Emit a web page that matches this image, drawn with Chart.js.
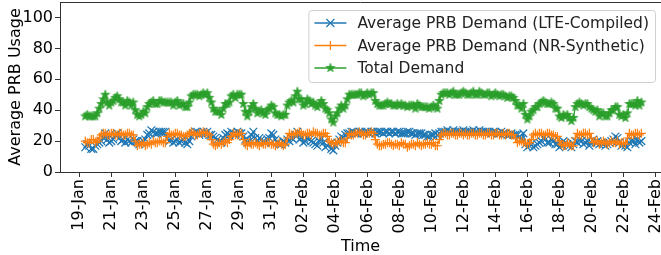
<!DOCTYPE html>
<html lang="en">
<head>
<meta charset="UTF-8">
<title>Average PRB Usage</title>
<script src="https://cdn.jsdelivr.net/npm/chart.js"></script>
<style>
  html, body { margin: 0; padding: 0; background: #fff; }
  #wrap { width: 661px; height: 255px; }
</style>
</head>
<body>
<div id="wrap"><canvas id="prbChart"></canvas></div>
<script>
// x values are days since 19-Jan 00:00, one sample every 3 hours
const firstSample = 0.375;
const sampleStep = 0.125;

const lteDemand = [
  16, 18, 17, 15, 15, 17, 18, 19, 20, 22, 25, 21, 19, 20, 21, 24, 25, 22, 20, 21,
  19, 21, 20, 19, 21, 20, 20, 18, 19, 20, 21, 24, 25, 27, 26, 25, 25, 26, 26, 26,
  26, 22, 20, 21, 19, 20, 21, 19, 20, 21, 19, 18, 20, 23, 25, 26, 26, 24, 25, 26,
  25, 26, 24, 24, 23, 22, 21, 20, 19, 22, 24, 25, 24, 26, 25, 24, 26, 25, 25, 23,
  21, 19, 20, 24, 26, 22, 20, 22, 21, 20, 19, 21, 22, 25, 24, 21, 19, 18, 18, 20,
  19, 21, 20, 22, 21, 24, 26, 21, 22, 19, 20, 22, 21, 20, 19, 18, 17, 20, 22, 19,
  16, 17, 18, 15, 14, 17, 19, 21, 23, 22, 24, 25, 25, 26, 26, 25, 25, 26, 26, 25,
  26, 26, 25, 26, 26, 25, 26, 26, 26, 25, 26, 26, 25, 26, 26, 25, 26, 26, 25, 25,
  25, 26, 26, 25, 25, 24, 25, 25, 25, 24, 24, 23, 23, 24, 24, 25, 24, 25, 26, 26,
  26, 27, 26, 26, 27, 26, 26, 26, 26, 27, 26, 26, 26, 26, 27, 26, 26, 27, 26, 26,
  26, 26, 26, 25, 26, 26, 25, 25, 26, 25, 25, 24, 24, 25, 24, 24, 24, 23, 21, 25,
  18, 16, 17, 18, 16, 17, 18, 19, 20, 22, 21, 19, 19, 21, 20, 18, 18, 16, 17, 20,
  19, 18, 17, 16, 18, 20, 19, 21, 20, 18, 19, 20, 17, 19, 21, 19, 20, 18, 19, 18,
  17, 18, 19, 20, 21, 23, 22, 19, 17, 18, 17, 16, 19, 20, 20, 18, 21, 19, 20
];
const nrDemand = [
  20, 19, 19, 21, 21, 19, 20, 22, 24, 25, 25, 24, 24, 25, 25, 24, 24, 25, 25, 24,
  24, 25, 25, 24, 24, 20, 17, 18, 18, 19, 17, 18, 19, 18, 20, 19, 19, 20, 20, 19,
  19, 23, 25, 24, 24, 25, 25, 24, 24, 23, 23, 24, 25, 26, 25, 24, 24, 25, 25, 26,
  25, 25, 24, 21, 18, 17, 18, 19, 18, 19, 20, 19, 21, 23, 25, 24, 24, 25, 25, 21,
  18, 17, 19, 18, 18, 19, 18, 17, 19, 18, 18, 19, 19, 18, 18, 17, 18, 19, 18, 17,
  18, 22, 25, 24, 24, 25, 25, 26, 25, 24, 24, 25, 25, 24, 26, 25, 25, 24, 24, 25,
  25, 23, 20, 19, 18, 19, 19, 20, 20, 19, 19, 22, 25, 24, 24, 25, 25, 26, 25, 24,
  24, 25, 25, 26, 25, 21, 18, 17, 17, 18, 18, 19, 19, 18, 17, 18, 18, 17, 19, 18,
  18, 16, 17, 18, 18, 17, 19, 18, 17, 18, 18, 19, 18, 18, 19, 17, 17, 21, 24, 25,
  25, 24, 24, 25, 25, 24, 24, 25, 25, 24, 25, 24, 24, 25, 25, 24, 24, 25, 25, 24,
  24, 25, 25, 24, 24, 25, 25, 24, 24, 25, 24, 25, 25, 24, 24, 22, 19, 20, 20, 19,
  19, 18, 19, 21, 24, 25, 24, 25, 25, 24, 24, 25, 25, 24, 24, 23, 23, 20, 18, 17,
  17, 19, 18, 17, 17, 22, 25, 24, 24, 25, 25, 24, 25, 22, 19, 20, 20, 18, 19, 20,
  19, 18, 19, 20, 19, 19, 20, 18, 19, 19, 18, 22, 25, 24, 24, 25, 25, 24, 25
];
const totalDemand = [
  36, 37, 36, 36, 36, 36, 38, 41, 44, 47, 50, 45, 43, 45, 46, 48, 49, 47, 45, 45,
  43, 46, 45, 43, 45, 40, 37, 36, 37, 39, 38, 42, 44, 45, 46, 44, 44, 46, 46, 45,
  45, 45, 45, 45, 43, 45, 46, 43, 44, 44, 42, 42, 45, 49, 50, 50, 50, 49, 50, 51,
  50, 51, 48, 45, 41, 39, 39, 39, 37, 41, 44, 44, 45, 49, 50, 48, 50, 50, 50, 44,
  39, 36, 39, 42, 44, 41, 38, 39, 40, 38, 37, 40, 41, 43, 42, 38, 37, 37, 36, 37,
  37, 43, 45, 46, 45, 49, 52, 47, 47, 43, 44, 47, 46, 44, 45, 43, 42, 44, 46, 44,
  41, 40, 38, 34, 32, 36, 38, 41, 43, 41, 43, 47, 50, 50, 50, 50, 50, 51, 51, 49,
  50, 51, 50, 51, 51, 46, 44, 43, 43, 43, 44, 45, 44, 44, 43, 43, 44, 43, 44, 43,
  43, 42, 43, 43, 43, 41, 44, 43, 42, 42, 42, 42, 41, 42, 43, 42, 41, 46, 50, 51,
  51, 51, 50, 51, 52, 50, 50, 50, 51, 52, 51, 50, 50, 51, 52, 50, 50, 52, 51, 50,
  50, 51, 51, 49, 50, 51, 50, 49, 50, 50, 49, 48, 49, 49, 48, 46, 43, 43, 41, 44,
  37, 34, 36, 39, 40, 42, 42, 44, 45, 46, 45, 44, 44, 45, 44, 41, 41, 36, 35, 37,
  36, 37, 35, 33, 35, 42, 44, 45, 44, 43, 44, 44, 42, 41, 40, 39, 40, 36, 38, 38,
  36, 36, 38, 40, 40, 42, 42, 37, 36, 37, 35, 38, 44, 44, 44, 43, 46, 43, 45
];

const seriesNames = [
  'Average PRB Demand (LTE-Compiled)',
  'Average PRB Demand (NR-Synthetic)',
  'Total Demand'
];
const dayTicks = [0, 2, 4, 6, 8, 10, 12, 14, 16, 18, 20, 22, 24, 26, 28, 30, 32, 34, 36];
const usageTicks = [0, 20, 40, 60, 80, 100];
const monthNames = ['Jan', 'Feb', 'Mar', 'Apr', 'May', 'Jun', 'Jul', 'Aug', 'Sep', 'Oct', 'Nov', 'Dec'];

const colors = ['#1f77b4', '#ff7f0e', '#2ca02c'];
const fontFamily = "'DejaVu Sans', sans-serif";

function dayLabel(day) {
  const d = new Date(2021, 0, 19 + day);
  return String(d.getDate()).padStart(2, '0') + '-' + monthNames[d.getMonth()];
}

function toPoints(values) {
  return values.map((v, i) => ({ x: firstSample + i * sampleStep, y: v }));
}

// filled star like matplotlib's '*'
function starMarker(color, r) {
  const c = document.createElement('canvas');
  const size = Math.ceil(r * 2 + 2);
  c.width = size;
  c.height = size;
  const g = c.getContext('2d');
  g.translate(size / 2, size / 2);
  g.beginPath();
  for (let k = 0; k < 10; k++) {
    const rad = k % 2 === 0 ? r : r * 0.382;
    const a = -Math.PI / 2 + k * Math.PI / 5;
    g.lineTo(rad * Math.cos(a), rad * Math.sin(a));
  }
  g.closePath();
  g.fillStyle = color;
  g.fill();
  g.strokeStyle = color;
  g.lineWidth = 0.8;
  g.stroke();
  return c;
}
const starImg = starMarker(colors[2], 4.6);

// top spine and a matplotlib-like legend box
const frameLegend = {
  id: 'frameLegend',
  afterDatasetsDraw(chart) {
    const { ctx, chartArea } = chart;
    ctx.save();
    ctx.strokeStyle = '#333';
    ctx.lineWidth = 1;
    ctx.beginPath();
    ctx.moveTo(chartArea.left, chartArea.top + 0.5);
    ctx.lineTo(chartArea.right, chartArea.top + 0.5);
    ctx.stroke();

    ctx.font = '15.5px ' + fontFamily;
    const textW = Math.max(...seriesNames.map(s => ctx.measureText(s).width));
    const boxW = 49 + textW + 6;
    const boxR = chartArea.right - 6;
    const boxL = boxR - boxW;
    const boxT = chartArea.top + 8;
    const boxH = 72;

    ctx.beginPath();
    ctx.roundRect(boxL + 0.5, boxT + 0.5, boxW, boxH, 3);
    ctx.fillStyle = 'rgba(255,255,255,0.8)';
    ctx.fill();
    ctx.strokeStyle = '#d0d0d0';
    ctx.stroke();

    seriesNames.forEach((name, i) => {
      const y = boxT + 13 + i * 22.5;
      const x0 = boxL + 6, x1 = boxL + 38, xm = (x0 + x1) / 2;
      ctx.strokeStyle = colors[i];
      ctx.lineWidth = 1.5;
      ctx.beginPath();
      ctx.moveTo(x0, y);
      ctx.lineTo(x1, y);
      ctx.stroke();
      ctx.lineWidth = 1.2;
      if (i === 0) {
        ctx.beginPath();
        ctx.moveTo(xm - 4, y - 4); ctx.lineTo(xm + 4, y + 4);
        ctx.moveTo(xm - 4, y + 4); ctx.lineTo(xm + 4, y - 4);
        ctx.stroke();
      } else if (i === 1) {
        ctx.beginPath();
        ctx.moveTo(xm - 4.5, y); ctx.lineTo(xm + 4.5, y);
        ctx.moveTo(xm, y - 4.5); ctx.lineTo(xm, y + 4.5);
        ctx.stroke();
      } else {
        ctx.drawImage(starImg, xm - starImg.width / 2, y - starImg.height / 2);
      }
      ctx.fillStyle = '#222';
      ctx.textBaseline = 'middle';
      ctx.textAlign = 'left';
      ctx.fillText(name, boxL + 49, y + 1);
    });
    ctx.restore();
  }
};

const tickFont = { family: fontFamily, size: 16 };

const ctx = document.getElementById('prbChart').getContext('2d');
new Chart(ctx, {
  type: 'line',
  data: {
    datasets: [
      {
        label: seriesNames[0],
        data: toPoints(lteDemand),
        borderColor: colors[0],
        backgroundColor: colors[0],
        borderWidth: 1.2,
        pointStyle: 'crossRot',
        pointRadius: 5.5,
        pointBorderWidth: 1.2,
        order: 3
      },
      {
        label: seriesNames[1],
        data: toPoints(nrDemand),
        borderColor: colors[1],
        backgroundColor: colors[1],
        borderWidth: 1.2,
        pointStyle: 'cross',
        pointRadius: 4.5,
        pointBorderWidth: 1.2,
        order: 2
      },
      {
        label: seriesNames[2],
        data: toPoints(totalDemand),
        borderColor: colors[2],
        backgroundColor: colors[2],
        borderWidth: 1.2,
        pointStyle: starImg,
        pointRadius: 4.6,
        order: 1
      }
    ]
  },
  options: {
    responsive: true,
    maintainAspectRatio: false,
    animation: false,
    layout: { autoPadding: false, padding: { top: 2, left: 0, right: 0, bottom: 0 } },
    plugins: {
      legend: { display: false },
      tooltip: { enabled: false }
    },
    scales: {
      x: {
        type: 'linear',
        min: -1.206,
        max: 36.35,
        afterBuildTicks: s => { s.ticks = dayTicks.map(v => ({ value: v })); },
        afterFit: s => { s.height = 83; s.paddingLeft = 0; s.paddingRight = 0; },
        grid: { drawOnChartArea: false, tickLength: 5, color: '#333' },
        border: { color: '#333' },
        ticks: {
          autoSkip: false,
          minRotation: 90,
          maxRotation: 90,
          padding: 2,
          color: '#000',
          font: tickFont,
          callback: v => dayLabel(v)
        },
        title: {
          display: true,
          text: 'Time',
          color: '#000',
          font: { family: fontFamily, size: 16, lineHeight: 1 },
          padding: { top: 0, bottom: 0 }
        }
      },
      y: {
        min: 0,
        max: 110,
        afterBuildTicks: s => { s.ticks = usageTicks.map(v => ({ value: v })); },
        afterFit: s => { s.width = 60; s.paddingTop = 0; s.paddingBottom = 0; },
        grid: { drawOnChartArea: false, tickLength: 5, color: '#333' },
        border: { color: '#333' },
        ticks: { padding: 2, color: '#000', font: tickFont },
        title: {
          display: true,
          text: 'Average PRB Usage',
          color: '#000',
          font: tickFont,
          padding: { top: 6, bottom: 0 }
        }
      }
    }
  },
  plugins: [frameLegend]
});
</script>
</body>
</html>
